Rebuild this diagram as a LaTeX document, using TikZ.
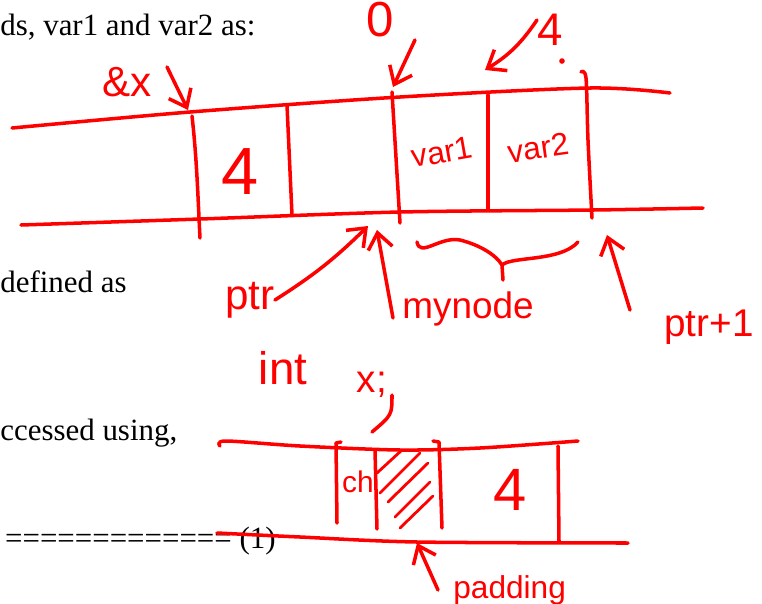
\documentclass[tikz,border=0pt]{standalone}
\usepackage{fontspec}
\setmainfont{Liberation Serif}
\newfontfamily\handfont{Liberation Sans}
\usetikzlibrary{arrows.meta}
\definecolor{ink}{RGB}{255,0,0}

\begin{document}
\begin{tikzpicture}[
  x=0.02cm, y=-0.02cm,
  pen/.style={draw=ink, line width=2pt, line cap=round, line join=round},
  arr/.style={pen, -{Straight Barb[length=9pt, width=14pt, line width=2pt]}},
  note/.style={text=ink, inner sep=0pt, font=\handfont\fontsize{#1}{#1}\selectfont},
  prose/.style={inner sep=0pt, font=\fontsize{17.6pt}{21pt}\selectfont}
]
\path[use as bounding box, fill=white] (0,0) rectangle (762,603);

% printed text behind the sketch
\node[prose, anchor=base west] (txtvars) at (0,35) {ds, var1 and var2 as:};
\node[prose, anchor=base west] (txtdef) at (0,292) {defined as};
\node[prose, anchor=base west] (txtacc) at (0,440) {ccessed using,};
\node[prose, anchor=base east] (txteq) at (276,548) {=============\ (1)};

% upper memory strip
\draw[pen] plot[smooth] coordinates {(12,128) (190,112) (400,97) (590,88) (670,93)};
\draw[pen] plot[smooth] coordinates {(21,225) (200,219) (400,212) (593,210) (703,208)};
\draw[pen] (192,116) .. controls (197,160) and (198,200) .. (200,238);
\draw[pen] (287,105) -- (292,215);
\draw[pen] (392,92) -- (400,223);
\draw[pen] (488,95) -- (488,210);
\draw[pen] plot[smooth] coordinates {(581,72) (586,78) (588,140) (592,218)};

\node[note=38pt] (cellx) at (240,172) {4};
\node[note=18pt, rotate=10] (varone) at (442,152) {var1};
\node[note=18pt, rotate=8] (vartwo) at (538,148) {var2};

\node[note=24pt] (addr) at (127,82) {\&x};
\node[note=28pt] (zero) at (380,20) {0};
\node[note=26pt] (size) at (550,30) {4};
\fill[ink] (562,61) circle (1.6pt);

\coordinate (addrtail) at (167,67);
\coordinate (addrtip) at (188,110);
\coordinate (zerotail) at (415,40);
\coordinate (zerotip) at (393,87);
\coordinate (sizetail) at (537,20);
\coordinate (sizetip) at (485,70);
\draw[arr] (addrtail) -- (addrtip);
\draw[arr] (zerotail) -- (zerotip);
\draw[arr] (sizetail) to[bend left=12] (sizetip);

% pointers below the strip
\node[note=24pt] (ptr) at (250,300) {ptr};
\node[note=26pt] (int) at (283,368) {int};
\node[note=21pt, anchor=base west] (mynode) at (402,318) {mynode};
\node[note=22pt] (ptrone) at (709,327) {ptr+1};

\coordinate (ptrtip) at (368,226);
\coordinate (nodetail) at (393,318);
\coordinate (nodetip) at (377,230);
\coordinate (onetail) at (630,310);
\coordinate (onetip) at (607,235);
\draw[arr] (ptr.east) to[bend right=6] (ptrtip);
\draw[arr] (nodetail) -- (nodetip);
\draw[arr] (onetail) -- (onetip);

% brace over the node
\draw[pen] (417,242) .. controls (420,258) and (440,236) .. (460,240)
  .. controls (480,245) and (496,255) .. (502,265) -- (503,280);
\draw[pen] (502,265) .. controls (512,256) and (560,262) .. (578,242);

% lower memory strip
\draw[pen] plot[smooth] coordinates {(220,446) (226,441) (300,446) (400,450) (480,448) (578,441)};
\draw[pen] plot[smooth] coordinates {(217,533) (300,537) (417,542) (628,543)};
\draw[pen] (341,442) -- (336,443) -- (337,523);
\draw[pen] (375,450) -- (377,529);
\draw[pen] (433,441) -- (439,442) -- (442,528);
\draw[pen] (558,446) -- (559,541);
\foreach \ax/\ay/\bx/\by in {377/473/402/450, 380/493/420/453, 388/502/428/463,
                             395/517/430/482, 400/528/433/496}
  \draw[pen, line width=1.6pt] (\ax,\ay) -- (\bx,\by);

\node[note=17pt] (chr) at (358,482) {ch};
\node[note=34pt] (cellint) at (510,490) {4};
\node[note=22pt] (xvar) at (372,385) {x;};
\coordinate (xtail) at (392,395);
\coordinate (xtip) at (372,432);
\draw[pen] (xtail) .. controls (392,415) .. (xtip);

\node[note=18pt, anchor=base west] (pad) at (453,598) {padding};
\coordinate (padtail) at (438,590);
\coordinate (padtip) at (417,543);
\draw[arr] (padtail) -- (padtip);
\end{tikzpicture}
\end{document}
